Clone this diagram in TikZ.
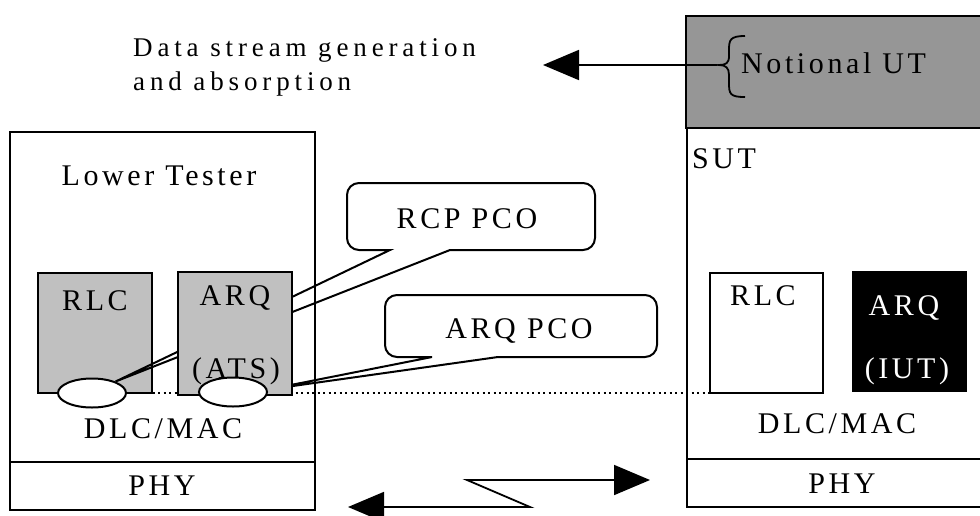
\documentclass[tikz,border=0pt]{standalone}
\usepackage{fontspec}
\usetikzlibrary{arrows.meta,shapes.geometric}
\newfontfamily\ltfont[LetterSpace=12]{Liberation Serif}
\newfontfamily\dsfont[LetterSpace=18]{Liberation Serif}
\definecolor{lgray}{HTML}{C0C0C0}
\definecolor{dgray}{HTML}{969696}
\tikzset{
  lbl/.style={font=\ltfont\fontsize{30}{34}\selectfont, inner sep=0pt, anchor=base},
  lblsmall/.style={font=\dsfont\fontsize{27}{32}\selectfont, inner sep=0pt, anchor=base west},
  box/.style={draw, line width=2pt},
  callout/.style={draw, line width=2pt},
  sap/.style={draw, ellipse, fill=white, line width=2pt, minimum width=68pt, minimum height=29pt, inner sep=0pt},
  dotline/.style={line width=2pt, dash pattern=on 2pt off 3.5pt},
  bigtri/.style={line width=1.8pt, -{Triangle[length=36pt,width=30pt]}},
  bigtri2/.style={line width=1.8pt, {Triangle[length=36pt,width=30pt]}-{Triangle[length=36pt,width=30pt]}},
}
\begin{document}
\begin{tikzpicture}[x=1pt,y=-1pt]
\useasboundingbox (0,0) rectangle (980,515);
\fill[white] (0,0) rectangle (980,515);

% top text
\node[lblsmall] (ds1) at (133,56) {Data stream generation};
\node[lblsmall] (ds2) at (133,90) {and absorption};

% left tester
\draw[box] (10,132) rectangle (315,462);
\draw[box] (10,462) rectangle (315,510);
\node[lbl] (lt) at (159,185) {Lower Tester};
\node[lbl] (ldlc) at (163,438) {DLC/MAC};
\node[lbl] (lphy) at (162,495) {PHY};

% right SUT
\draw[box, fill=dgray] (686,16) rectangle (995,128);
\draw[box] (687,128) rectangle (995,459);
\draw[box] (687,459) rectangle (995,507);
\node[lbl, anchor=base west] (nut) at (741,73) {Notional UT};
\node[lbl, anchor=base west] (sut) at (692,168) {SUT};
\node[lbl] (rdlc) at (837,433) {DLC/MAC};
\node[lbl] (rphy) at (842,493) {PHY};

% dotted line
\coordinate (dotA) at (147,393);
\coordinate (dotB) at (730,393);
\draw[dotline] (dotA) -- (dotB);

% left RLC
\draw[box, fill=lgray] (38,273) rectangle (152,393);
\node[lbl] (lrlc) at (95,310) {RLC};

% SAP ellipses (positions)
\node[sap, draw=none, fill=none] (e1p) at (92,393) {};
\node[sap, draw=none, fill=none] (e2p) at (233,392) {};

% callouts
\draw[callout] (e1p.26) -- (390,250) [rounded corners=12pt] -- (347,250) -- (347,183) -- (595,183) -- (595,250) [sharp corners] -- (450,250) -- cycle;
\node[lbl] (rcp) at (467,228) {RCP PCO};
\draw[callout] (e2p.4) -- (432,357) [rounded corners=12pt] -- (385,357) -- (385,295) -- (657,295) -- (657,357) [sharp corners] -- (498,357) -- cycle;
\node[lbl] (apco) at (519,338) {ARQ PCO};

% left ARQ (ATS)
\draw[box, fill=lgray] (178,272) rectangle (292,395);
\node[lbl] (larq) at (235,305) {ARQ};
\node[lbl] (lats) at (236,378) {(ATS)};

% ellipses on top
\node[sap] (e1) at (92,393) {};
\node[sap] (e2) at (233,392) {};

% right RLC and ARQ (IUT)
\draw[box] (710,273) rectangle (823,393);
\node[lbl] (rrlc) at (763,305) {RLC};
\fill[black] (852,271) rectangle (967,392);
\node[lbl, text=white] (rarq) at (904,315) {ARQ};
\node[lbl, text=white] (riut) at (907,378) {(IUT)};

% brace and top arrow
\draw[line width=1.8pt] (745,36) .. controls (730,36) and (729,40) .. (729,50) -- (729,56) .. controls (729,63) and (726,65) .. (719,65) .. controls (726,65) and (729,68) .. (729,75) -- (729,83) .. controls (729,94) and (730,97) .. (745,97);
\coordinate (brtip) at (717,65);
\coordinate (toptip) at (543,65);
\draw[bigtri] (brtip) -- (toptip);

% bottom radio arrow
\coordinate (lowtip) at (348,507);
\coordinate (zz1) at (530,507);
\coordinate (zz2) at (467,480);
\coordinate (uptip) at (650,480);
\draw[bigtri2] (lowtip) -- (zz1) -- (zz2) -- (uptip);
\end{tikzpicture}
\end{document}
